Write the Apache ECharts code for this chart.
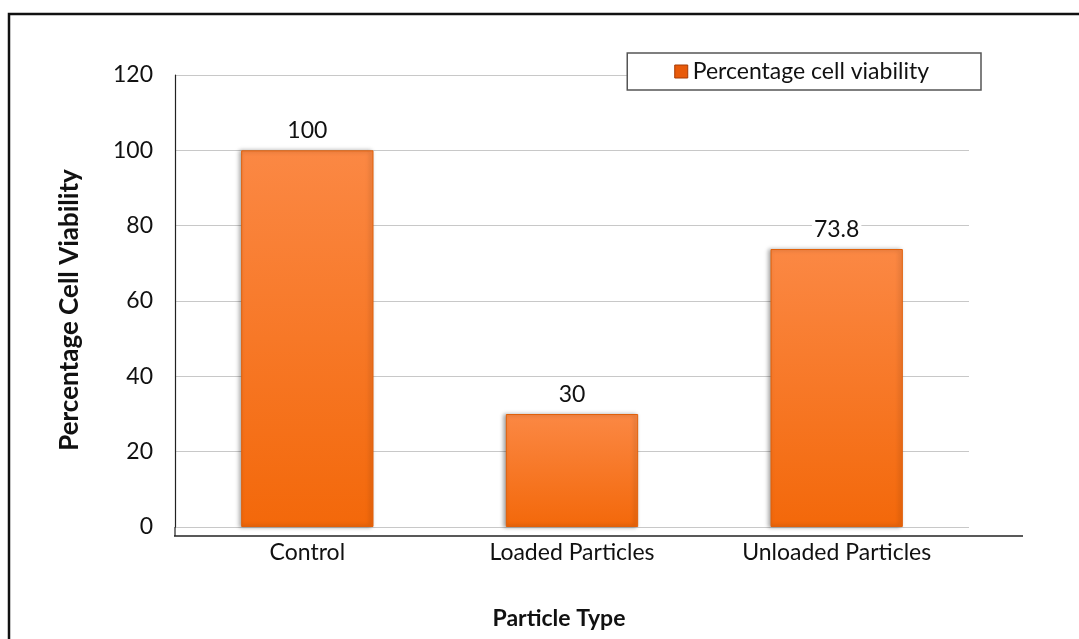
<!DOCTYPE html>
<html>
<head>
<meta charset="utf-8">
<script src="https://cdn.jsdelivr.net/npm/echarts@6/dist/echarts.min.js"></script>
<style>
  html, body { margin: 0; padding: 0; background: #fff; }
  #chart { width: 1079px; height: 639px; }
</style>
</head>
<body>
<div id="chart"></div>
<script>
// Cell viability by particle type
const categories = ['Control', 'Loaded Particles', 'Unloaded Particles'];
const viability = [100, 30, 73.8];
const seriesName = 'Percentage cell viability';
const yTicks = { min: 0, max: 120, interval: 20 };

const FONT = 'Lato, "Open Sans", "Noto Sans", sans-serif';

const chart = echarts.init(document.getElementById('chart'), null, { renderer: 'canvas' });

const barFill = new echarts.graphic.LinearGradient(0, 0, 0, 1, [
  { offset: 0, color: '#FB8844' },
  { offset: 1, color: '#F3680A' }
]);

chart.setOption({
  backgroundColor: '#ffffff',
  animation: false,
  grid: { left: 175, right: 110, top: 75, bottom: 112, containLabel: false },
  legend: {
    data: [seriesName],
    right: 98,
    top: 53,
    padding: [7, 52, 7, 47],
    itemWidth: 13,
    itemHeight: 13,
    itemGap: 9,
    borderColor: '#555',
    borderWidth: 1.5,
    backgroundColor: '#fff',
    icon: 'rect',
    textStyle: { fontFamily: FONT, fontSize: 23, color: '#111' },
    itemStyle: { color: '#E85A0A', borderColor: '#A63A05', borderWidth: 1 }
  },
  xAxis: {
    type: 'category',
    data: categories,
    name: 'Particle Type',
    nameLocation: 'middle',
    nameGap: 80,
    nameTextStyle: { fontFamily: FONT, fontSize: 23, fontWeight: 'bold', color: '#111', padding: [0, 26, 0, 0] },
    axisLine: { show: false },
    axisTick: { show: false },
    axisLabel: { fontFamily: FONT, fontSize: 23, color: '#111', margin: 14 }
  },
  yAxis: {
    type: 'value',
    min: yTicks.min,
    max: yTicks.max,
    interval: yTicks.interval,
    name: 'Percentage Cell Viability',
    nameLocation: 'middle',
    nameGap: 92,
    nameRotate: 90,
    nameTextStyle: { fontFamily: FONT, fontSize: 26, fontWeight: 'bold', color: '#111', padding: [0, 18, 0, 0] },
    axisLine: { show: true, lineStyle: { color: '#222', width: 1.2 } },
    axisTick: { show: false },
    axisLabel: { fontFamily: FONT, fontSize: 23, color: '#111', margin: 22 },
    splitLine: { show: true, lineStyle: { color: '#c8c8c8', width: 1 } }
  },
  series: [{
    name: seriesName,
    type: 'bar',
    data: viability,
    barWidth: '50%',
    itemStyle: {
      color: barFill,
      borderColor: '#E0600A',
      borderWidth: 1,
      shadowColor: 'rgba(0,0,0,0.35)',
      shadowBlur: 4,
      shadowOffsetX: -2,
      shadowOffsetY: 0
    },
    label: {
      show: true,
      position: 'top',
      distance: 8,
      fontFamily: FONT,
      fontSize: 23,
      color: '#111',
      backgroundColor: '#fff',
      padding: [0, 2]
    }
  }],
  graphic: [
    // outer frame
    {
      type: 'rect',
      shape: { x: 9, y: 14, width: 1200, height: 800 },
      style: { fill: 'none', stroke: '#111', lineWidth: 2.5 },
      silent: true,
      z: 100
    },
    // category axis baseline, set slightly below the zero gridline
    {
      type: 'line',
      shape: { x1: 174, y1: 536, x2: 1023, y2: 536 },
      style: { stroke: '#222', lineWidth: 1.5 },
      silent: true,
      z: 50
    },
    {
      type: 'line',
      shape: { x1: 175, y1: 527, x2: 175, y2: 536 },
      style: { stroke: '#222', lineWidth: 1.2 },
      silent: true,
      z: 50
    }
  ]
});
</script>
</body>
</html>
